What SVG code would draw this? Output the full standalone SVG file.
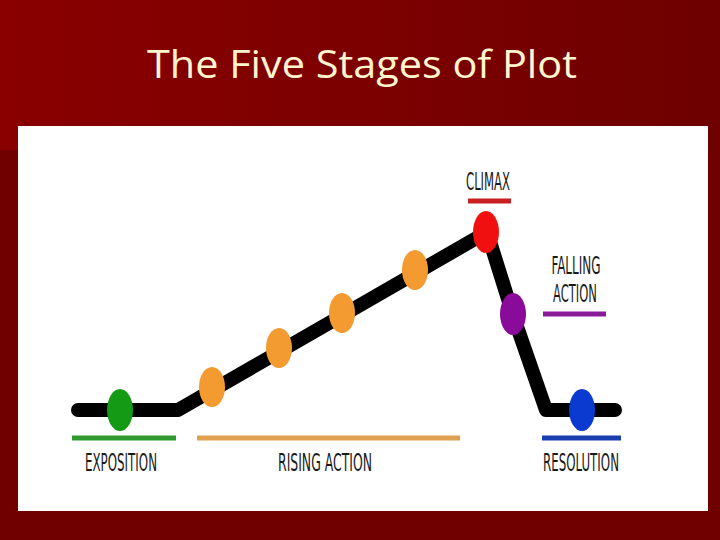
<svg xmlns="http://www.w3.org/2000/svg" width="720" height="540" viewBox="0 0 720 540">
<defs>
<linearGradient id="bg" x1="0" y1="0" x2="1" y2="0">
<stop offset="0" stop-color="#8a0000"/>
<stop offset="1" stop-color="#6e0000"/>
</linearGradient>
<style>
.lbl{font-family:"Liberation Sans Narrow","DejaVu Sans Condensed","Liberation Sans",sans-serif;font-size:25px;fill:#1a1a1a;text-anchor:middle}
.bar{stroke-width:5}
</style>
</defs>
<rect width="720" height="540" fill="url(#bg)"/>
<rect x="0" y="150" width="720" height="390" fill="#700000"/>
<text x="362" y="78" font-family="'Open Sans','Lato',sans-serif" font-size="38" fill="#fff6cf" text-anchor="middle" textLength="430" lengthAdjust="spacingAndGlyphs">The Five Stages of Plot</text>
<rect x="18" y="126" width="690" height="385" fill="#ffffff"/>
<g id="connectors">
<polyline points="78,410 178,410 487,232 513,315 546,410 615,410" fill="none" stroke="#000" stroke-width="14" stroke-linecap="round" stroke-linejoin="round"/>
</g>
<g id="exposition">
<ellipse cx="120" cy="410" rx="13" ry="21" fill="#159a15"/>
<line x1="72" y1="438" x2="176" y2="438" stroke="#2e9a2e" class="bar"/>
<text class="lbl" x="121" y="471" textLength="72" lengthAdjust="spacingAndGlyphs">EXPOSITION</text>
</g>
<g id="rising-action">
<ellipse cx="212" cy="387" rx="13" ry="20" fill="#f39a30"/>
<ellipse cx="279" cy="348" rx="13" ry="20" fill="#f39a30"/>
<ellipse cx="342" cy="313" rx="13" ry="20" fill="#f39a30"/>
<ellipse cx="415" cy="270" rx="13" ry="20" fill="#f39a30"/>
<line x1="197" y1="438" x2="460" y2="438" stroke="#e0a050" class="bar"/>
<text class="lbl" x="325" y="471" textLength="94" lengthAdjust="spacingAndGlyphs">RISING ACTION</text>
</g>
<g id="climax">
<ellipse cx="486" cy="232" rx="13" ry="21" fill="#f01010"/>
<line x1="468" y1="201" x2="511" y2="201" stroke="#c82020" class="bar"/>
<text class="lbl" x="488" y="190" textLength="44" lengthAdjust="spacingAndGlyphs">CLIMAX</text>
</g>
<g id="falling-action">
<ellipse cx="513" cy="314" rx="13" ry="21" fill="#8a0a9a"/>
<line x1="543" y1="314" x2="606" y2="314" stroke="#8a1a9a" class="bar"/>
<text class="lbl" x="576" y="274" textLength="49" lengthAdjust="spacingAndGlyphs">FALLING</text>
<text class="lbl" x="575" y="302" textLength="44" lengthAdjust="spacingAndGlyphs">ACTION</text>
</g>
<g id="resolution">
<ellipse cx="582" cy="410" rx="13" ry="21" fill="#0b3ad0"/>
<line x1="542" y1="438" x2="621" y2="438" stroke="#1a40b0" class="bar"/>
<text class="lbl" x="581" y="471" textLength="76" lengthAdjust="spacingAndGlyphs">RESOLUTION</text>
</g>
</svg>
